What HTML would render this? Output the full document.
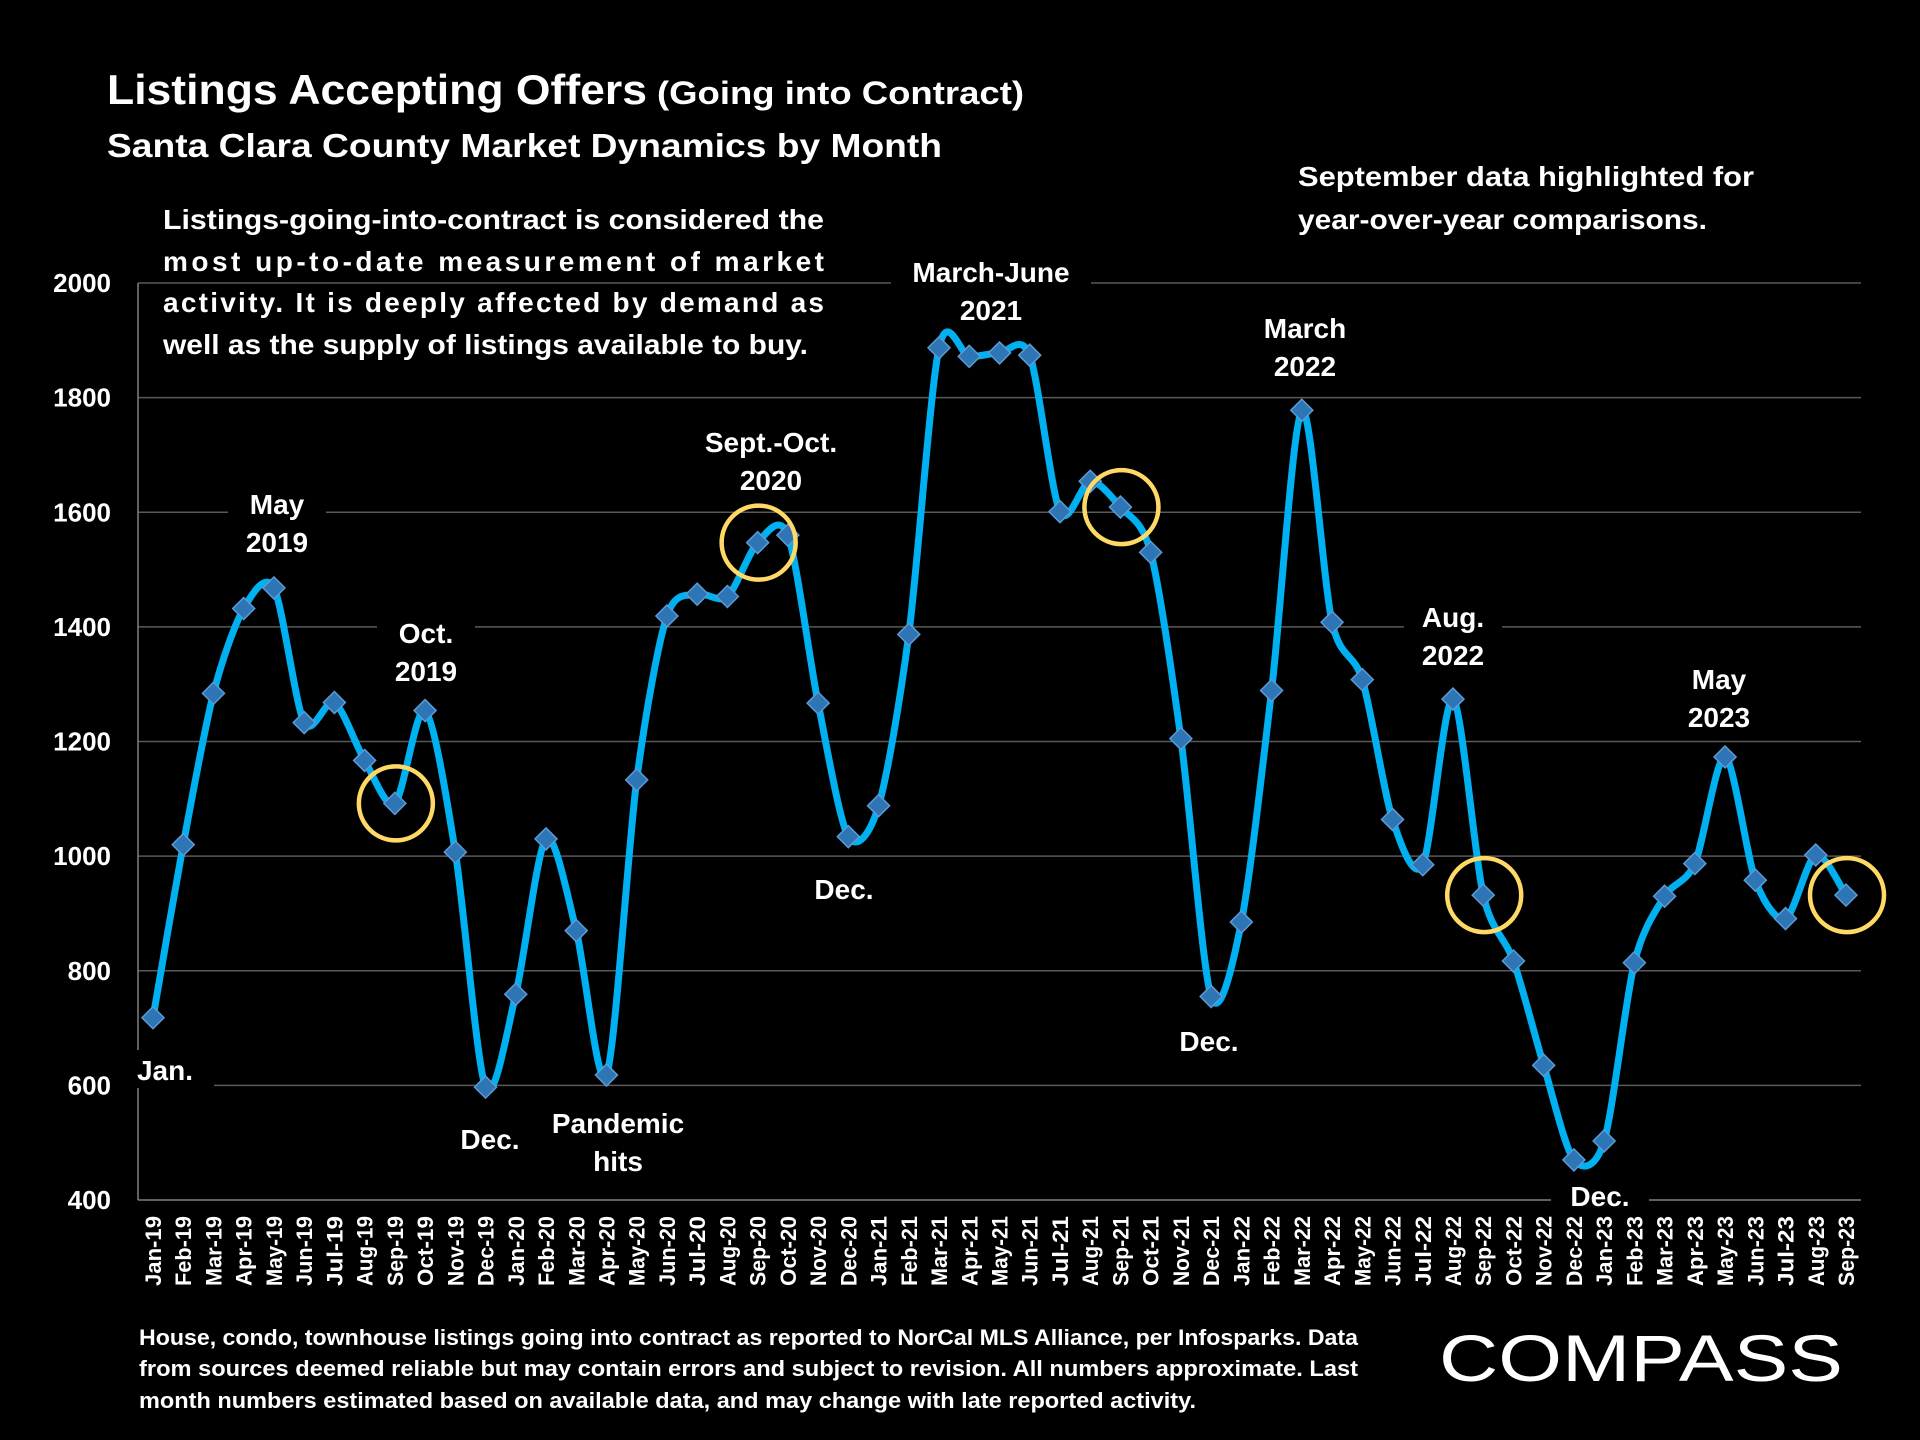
<!DOCTYPE html>
<html><head><meta charset="utf-8">
<style>
html,body{margin:0;padding:0;background:#000;}
svg{display:block;font-family:"Liberation Sans",sans-serif;}
</style></head>
<body>
<svg id="chart" width="1920" height="1440" viewBox="0 0 1920 1440" xmlns="http://www.w3.org/2000/svg">
<rect width="1920" height="1440" fill="#000"/>
<text x="107" y="104" fill="#fff" font-weight="bold"><tspan font-size="42" textLength="540" lengthAdjust="spacingAndGlyphs">Listings Accepting Offers</tspan><tspan font-size="32" dx="10" textLength="367" lengthAdjust="spacingAndGlyphs">(Going into Contract)</tspan></text>
<text x="107" y="157" fill="#fff" font-weight="bold" font-size="33" textLength="835" lengthAdjust="spacingAndGlyphs">Santa Clara County Market Dynamics by Month</text>
<g id="grid"></g>
<g id="labels"></g>
<g id="axes"></g>
<g id="series"></g>
<g fill="#fff" font-weight="bold" font-size="28">
<text x="163" y="229" textLength="661" lengthAdjust="spacingAndGlyphs">Listings-going-into-contract is considered the</text>
<text x="163" y="271" textLength="661" lengthAdjust="spacing">most up-to-date measurement of market</text>
<text x="163" y="312" textLength="661" lengthAdjust="spacing">activity. It is deeply affected by demand as</text>
<text x="163" y="354" textLength="645" lengthAdjust="spacingAndGlyphs">well as the supply of listings available to buy.</text>
</g>
<g fill="#fff" font-weight="bold" font-size="28">
<text x="1298" y="186" textLength="456" lengthAdjust="spacingAndGlyphs">September data highlighted for</text>
<text x="1298" y="229" textLength="409" lengthAdjust="spacingAndGlyphs">year-over-year comparisons.</text>
</g>
<g fill="#fff" font-weight="bold" font-size="22">
<text x="139" y="1345" textLength="1219" lengthAdjust="spacingAndGlyphs">House, condo, townhouse listings going into contract as reported to NorCal MLS Alliance, per Infosparks. Data</text>
<text x="139" y="1376" textLength="1219" lengthAdjust="spacingAndGlyphs">from sources deemed reliable but may contain errors and subject to revision. All numbers approximate. Last</text>
<text x="139" y="1408" textLength="1057" lengthAdjust="spacingAndGlyphs">month numbers estimated based on available data, and may change with late reported activity.</text>
</g>
<text x="1439" y="1381" fill="#fff" font-size="66" textLength="404" lengthAdjust="spacingAndGlyphs">COMPASS</text>
</svg>
<script>
const categories=["Jan-19","Feb-19","Mar-19","Apr-19","May-19","Jun-19","Jul-19","Aug-19","Sep-19","Oct-19","Nov-19","Dec-19","Jan-20","Feb-20","Mar-20","Apr-20","May-20","Jun-20","Jul-20","Aug-20","Sep-20","Oct-20","Nov-20","Dec-20","Jan-21","Feb-21","Mar-21","Apr-21","May-21","Jun-21","Jul-21","Aug-21","Sep-21","Oct-21","Nov-21","Dec-21","Jan-22","Feb-22","Mar-22","Apr-22","May-22","Jun-22","Jul-22","Aug-22","Sep-22","Oct-22","Nov-22","Dec-22","Jan-23","Feb-23","Mar-23","Apr-23","May-23","Jun-23","Jul-23","Aug-23","Sep-23"];
const values=[718,1020,1284,1432,1468,1233,1268,1167,1092,1254,1007,597,759,1030,870,618,1133,1419,1457,1453,1547,1560,1267,1034,1088,1387,1887,1872,1878,1874,1601,1654,1609,1530,1205,755,885,1289,1778,1408,1308,1064,985,1274,932,817,635,470,503,814,930,987,1173,958,891,1002,932];
const yTicks=[400,600,800,1000,1200,1400,1600,1800,2000];
const highlighted=["Sep-19","Sep-20","Sep-21","Sep-22","Sep-23"];
const NS="http://www.w3.org/2000/svg";
const X0=153,X1=1846,Y0=1200,Y1=283,VMIN=400,VMAX=2000,LEFT=138,RIGHT=1861;
function x(i){return X0+(X1-X0)*i/(categories.length-1);}
function y(v){return Y0-(v-VMIN)/(VMAX-VMIN)*(Y0-Y1);}
function mk(tag,attrs,parent){const e=document.createElementNS(NS,tag);for(const k in attrs)e.setAttribute(k,attrs[k]);parent.appendChild(e);return e;}
const grid=document.getElementById('grid'),axes=document.getElementById('axes'),series=document.getElementById('series'),labels=document.getElementById('labels');
yTicks.forEach(t=>{
 if(t>VMIN){const l=mk('line',{x1:LEFT,x2:RIGHT,y1:y(t),y2:y(t),stroke:'#595959','stroke-width':1.5},grid);
 
 }
 const tx=mk('text',{x:111,y:y(t)+9,'text-anchor':'end',fill:'#fff','font-size':26,'font-weight':'bold'},axes);
 tx.textContent=t;
 
 
});
const ax=mk('line',{x1:LEFT,x2:LEFT,y1:Y1,y2:Y0,stroke:'#808080','stroke-width':1.5},grid);


const bx=mk('line',{x1:LEFT,x2:RIGHT,y1:Y0,y2:Y0,stroke:'#808080','stroke-width':1.5},grid);


categories.forEach((c,i)=>{
 const t=mk('text',{transform:`translate(${x(i)+8},1216) rotate(-90)`,'text-anchor':'end',fill:'#fff','font-size':22,'font-weight':'bold',textLength:c.length>5?70:62,lengthAdjust:'spacingAndGlyphs'},axes);
 t.textContent=c;
 
 
});
const pts=values.map((v,i)=>[x(i),y(v)]);
let d=`M${pts[0][0]},${pts[0][1]}`;
for(let i=0;i<pts.length-1;i++){
 const p0=pts[i-1]||pts[i],p1=pts[i],p2=pts[i+1],p3=pts[i+2]||p2,k=7;
 d+=` C${p1[0]+(p2[0]-p0[0])/k},${p1[1]+(p2[1]-p0[1])/k} ${p2[0]-(p3[0]-p1[0])/k},${p2[1]-(p3[1]-p1[1])/k} ${p2[0]},${p2[1]}`;
}
const line=mk('path',{d:d,fill:'none',stroke:'#00b0f0','stroke-width':7,'stroke-linejoin':'round'},series);


values.forEach((v,i)=>{
 const cx=x(i),cy=y(v),s=11;
 const m=mk('polygon',{points:`${cx},${cy-s} ${cx+s},${cy} ${cx},${cy+s} ${cx-s},${cy}`,fill:'#2e75b6',stroke:'#5b9bd5','stroke-width':1.5},series);
 
 
});
highlighted.forEach(c=>{
 const i=categories.indexOf(c);
 const ci=mk('circle',{cx:x(i)+1,cy:y(values[i]),r:37,fill:'none',stroke:'#ffd966','stroke-width':4.5},series);
 
 
});
function label(lines,cx,by,name){
 const g=mk('g',{},labels);
 
 
 const w=Math.max(...lines.map(l=>l.length))*17+30;
 mk('rect',{x:cx-w/2,y:by-30,width:w,height:(lines.length-1)*38+38,fill:'#000'},g);
 lines.forEach((l,k)=>{const t=mk('text',{x:cx,y:by+k*38,'text-anchor':'middle',fill:'#fff','font-size':28,'font-weight':'bold'},g);t.textContent=l;});
}
label(["May","2019"],277,514,'label-may-2019');
label(["Oct.","2019"],426,643,'label-oct-2019');
label(["Sept.-Oct.","2020"],771,452,'label-sept-oct-2020');
label(["March-June","2021"],991,282,'label-march-june-2021');
label(["March","2022"],1305,338,'label-march-2022');
label(["Aug.","2022"],1453,627,'label-aug-2022');
label(["May","2023"],1719,689,'label-may-2023');
label(["Jan."],165,1080,'label-jan');
label(["Dec."],490,1149,'label-dec-2019');
label(["Pandemic","hits"],618,1133,'label-pandemic-hits');
label(["Dec."],844,899,'label-dec-2020');
label(["Dec."],1209,1051,'label-dec-2021');
label(["Dec."],1600,1206,'label-dec-2022');
</script>
</body></html>
